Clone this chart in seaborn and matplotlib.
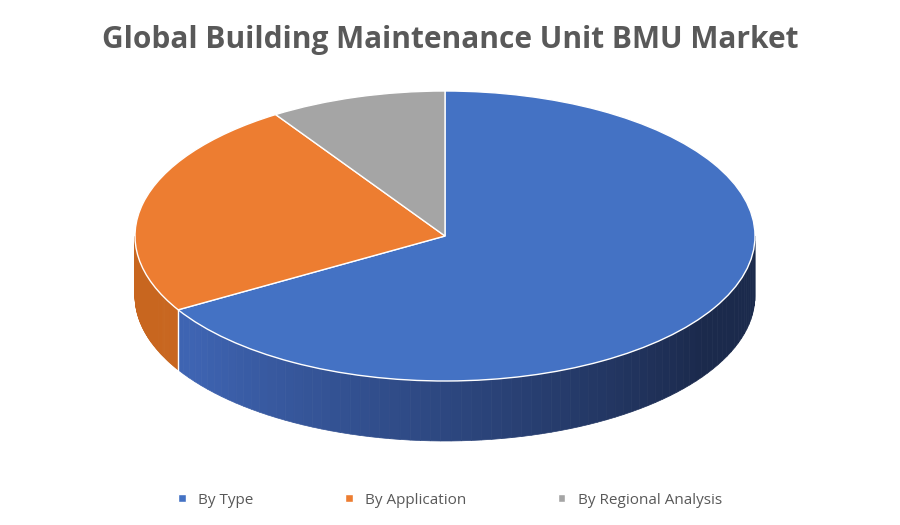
import numpy as np
import matplotlib
matplotlib.use("Agg")
import matplotlib.pyplot as plt
from matplotlib.patches import Polygon, Patch
from matplotlib.colors import to_rgb
import seaborn as sns

labels = ["By Type", "By Application", "By Regional Analysis"]
shares = [66.5, 24.3, 9.2]
top_colors = ["#4472C4", "#ED7D31", "#A5A5A5"]
side_light = ["#3E64B2", "#C8661F", "#8A8A8A"]
side_dark = ["#1B2A4C", "#B85C1C", "#7A7A7A"]

sns.set_theme(style="white")
plt.rcParams['font.family'] = ['Open Sans', 'DejaVu Sans']

fig = plt.figure(figsize=(9, 5.25), dpi=100)
ax = fig.add_axes([0, 0, 1, 1])

depth = 60 / 145
fracs = np.array(shares) / sum(shares)
cum = np.concatenate([[0], np.cumsum(fracs)])

# side walls of the front half
for i in range(len(shares)):
    a_lo = 90 - cum[i + 1] * 360
    a_hi = 90 - cum[i] * 360
    for k in (-360, 0, 360):
        lo = max(a_lo + k, 180)
        hi = min(a_hi + k, 360)
        if hi <= lo:
            continue
        edges = np.linspace(lo, hi, 80)
        c1, c2 = np.array(to_rgb(side_light[i])), np.array(to_rgb(side_dark[i]))
        for s, e in zip(edges[:-1], edges[1:]):
            t = np.clip((s - 215) / 110, 0, 1)
            col = c1 + (c2 - c1) * t
            ang = np.radians([s, e])
            xs = np.cos(ang)
            ys = np.sin(ang)
            pts = [(xs[0], ys[0]), (xs[1], ys[1]), (xs[1], ys[1] - depth), (xs[0], ys[0] - depth)]
            ax.add_patch(Polygon(pts, closed=True, facecolor=col, edgecolor=col, lw=0.5, zorder=1))
        r = np.radians(lo)
        if lo > 180:
            ax.plot([np.cos(r), np.cos(r)], [np.sin(r), np.sin(r) - depth], color="white", lw=1, zorder=2)

ax.pie(shares, colors=top_colors, startangle=90, counterclock=False, radius=1, center=(0, 0),
       wedgeprops=dict(edgecolor="white", linewidth=1), frame=True)
for w in ax.patches[-3:]:
    w.set_zorder(3)
ax.set_xlim(-445 / 310, 455 / 310)
ax.set_ylim(-289 / 145, 236 / 145)
ax.set_aspect("auto")
ax.axis("off")

fig.text(0.5, 1 - 40 / 525, "Global Building Maintenance Unit BMU Market", ha="center", va="center",
         fontsize=21.5, fontweight="bold", color="#595959")
handles = [Patch(facecolor=c, label=l) for c, l in zip(top_colors, labels)]
fig.legend(handles=handles, loc="center", bbox_to_anchor=(0.5, 1 - 500 / 525), ncol=3, frameon=False,
           fontsize=11, handlelength=0.5, handleheight=0.5, columnspacing=6, labelcolor="#595959")
fig.savefig("out.png", dpi=100)
